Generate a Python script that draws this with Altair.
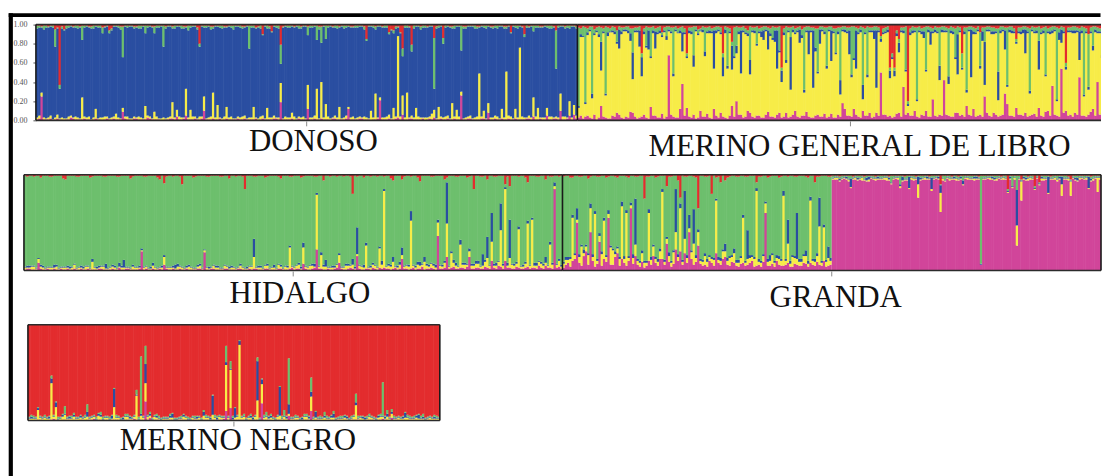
import altair as alt
import pandas as pd

# stacking order, bottom to top
CLUSTERS = ["magenta", "yellow", "blue", "green", "red"]
COLORS = ["#D1459A", "#F7EC48", "#2A4EA1", "#6DBF6D", "#E32C2E"]

# ---------------- DONOSO (blue dominant) ----------------
DONOSO_M = [1,2, 25,1, 1,1, 2,0, 1,2, 1,1, 0,1, 1,3, 2,1, 1,1,
            1,2, 1,1, 0,1, 2,1, 1,0, 1,2, 1,1, 2,1, 1,1, 9,2,
            1,1, 0,2, 2,1, 1,1, 1,3, 2,1, 1,1, 1,0, 0,1, 1,2,
            2,1, 4,1, 1,2, 5,1, 1,1, 2,1, 1,2, 10,1, 1,1, 2,1,
            1,2, 0,1, 2,1, 1,1, 1,2, 1,1, 2,1, 1,1, 1,2, 0,1,
            2,1, 1,1, 1,2, 2,1, 19,1, 1,1, 1,2, 0,1, 2,1, 1,1,
            12,1, 1,2, 1,1, 2,1, 1,1, 0,2, 2,1, 1,1, 1,2, 12,1,
            1,1, 1,2, 2,1, 1,1, 0,1, 1,2, 21,1, 1,1, 2,1, 1,2,
            3,1, 6,1, 1,2, 2,1, 1,1, 1,2, 0,1, 2,1, 3,1, 1,2,
            1,1, 2,1, 1,2, 1,1, 26,1, 1,2, 2,1, 1,1, 1,2, 2,1,
            8,1, 1,2, 1,1, 2,1, 1,2, 1,1, 2,1, 1,1, 1,2, 2,1,
            4,1, 1,2, 1,1, 5,1, 1,2, 2,1, 10,1, 1,2, 5,1, 6,2]
DONOSO_Y = [2,3, 4,2, 1,2, 3,1, 2,4, 1,2, 2,1, 3,2, 1,3, 2,1,
            23,2, 2,3, 1,2, 10,1, 2,3, 3,2, 1,2, 2,6, 2,1, 4,2,
            3,1, 2,2, 1,3, 2,1, 14,2, 2,1, 8,3, 1,2, 3,1, 2,2,
            17,2, 7,3, 2,1, 28,2, 10,3, 2,1, 3,2, 15,1, 2,3, 27,2,
            15,1, 2,3, 12,2, 3,1, 1,2, 2,3, 3,1, 2,2, 13,1, 2,3,
            3,1, 12,2, 2,3, 1,2, 20,1, 3,2, 2,6, 4,1, 2,2, 3,1,
            25,2, 2,3, 32,1, 38,2, 16,3, 2,1, 3,2, 13,1, 2,3, 2,2,
            3,1, 2,2, 1,3, 2,1, 10,2, 27,1, 3,2, 2,3, 4,1, 12,2,
            85,3, 20,2, 28,1, 3,2, 12,3, 2,1, 3,2, 2,6, 8,1, 13,2,
            2,3, 3,1, 17,2, 10,3, 4,1, 2,2, 3,1, 2,3, 48,2, 8,1,
            10,2, 2,3, 3,1, 10,2, 50,3, 3,1, 10,2, 75,3, 2,1, 3,2,
            20,3, 12,1, 2,2, 8,3, 3,1, 2,2, 18,3, 3,1, 15,2, 10,3]
DONOSO_G = [3,2, 1,4, 2,1, 1,2, 18,1, 4,2, 1,3, 2,1, 1,2, 3,1,
            15,2, 1,1, 2,3, 1,2, 2,6, 1,1, 3,2, 1,1, 2,3, 32,1,
            2,1, 1,2, 1,3, 3,1, 8,2, 1,1, 7,2, 2,1, 22,2, 1,1,
            2,3, 1,1, 3,2, 1,5, 2,1, 1,2, 3,1, 2,2, 1,3, 2,1,
            1,2, 3,1, 1,1, 2,4, 1,1, 2,2, 1,1, 24,2, 2,1, 1,3,
            1,1, 3,2, 1,1, 2,3, 20,1, 1,2, 2,1, 1,1, 3,2, 1,1,
            9,2, 2,1, 15,3, 17,1, 14,2, 1,1, 2,3, 1,1, 3,2, 1,1,
            1,2, 2,1, 1,3, 2,1, 1,2, 3,1, 1,1, 2,2, 2,1, 3,2,
            1,1, 8,2, 2,1, 7,3, 1,1, 3,2, 2,1, 1,1, 53,2, 2,1,
            6,2, 1,1, 2,3, 1,1, 26,2, 2,1, 1,1, 3,2, 1,1, 2,3,
            1,1, 2,2, 3,1, 1,2, 2,1, 1,1, 2,3, 1,1, 3,2, 1,1,
            6,2, 2,1, 1,1, 2,3, 3,1, 40,2, 1,1, 2,2, 3,1, 1,2]
DONOSO_R = [1,1, 2,1, 1,2, 1,1, 5,3, 63,2, 5,1, 1,1, 2,1, 1,2,
            1,1, 1,2, 2,1, 1,1, 1,3, 2,1, 6,4, 1,1, 1,2, 2,1,
            1,1, 1,2, 2,1, 1,1, 1,1, 1,2, 2,1, 1,1, 1,2, 1,1,
            2,1, 1,1, 1,2, 2,1, 1,1, 1,3, 20,1, 1,1, 1,2, 2,1,
            1,1, 1,2, 2,1, 1,1, 1,1, 1,2, 2,1, 1,1, 1,3, 2,1,
            10,1, 1,2, 7,1, 1,1, 21,2, 1,1, 1,1, 2,1, 1,2, 1,1,
            2,1, 1,1, 1,2, 2,1, 1,1, 1,2, 1,1, 2,1, 1,1, 1,2,
            2,1, 1,1, 1,2, 15,1, 1,1, 2,1, 1,2, 1,1, 8,5, 6,2,
            2,8, 25,1, 1,2, 21,1, 1,1, 2,1, 1,2, 1,1, 14,2, 1,1,
            14,1, 1,2, 2,1, 1,1, 1,2, 2,1, 1,1, 1,2, 2,1, 1,1,
            1,2, 2,1, 1,1, 1,2, 2,1, 8,1, 1,1, 1,2, 10,1, 2,1,
            1,1, 1,2, 2,1, 1,1, 1,2, 6,1, 1,1, 2,1, 1,1, 1,2]

# ------------- MERINO GENERAL DE LIBRO (yellow dominant) -------------
MGL_M = [3,5, 2,4, 5,3, 2,6, 1,3, 15,4, 3,2, 2,5, 4,8, 6,3,
         2,4, 3,9, 8,4, 2,3, 4,6, 3,2, 14,5, 5,3, 3,7, 2,4,
         68,6, 4,3, 3,12, 38,5, 13,4, 3,6, 2,3, 10,4, 4,7, 3,2,
         12,5, 3,8, 4,3, 2,5, 15,4, 20,6, 6,3, 4,10, 8,4, 3,5,
         5,3, 3,6, 9,4, 4,3, 6,8, 3,4, 8,3, 4,6, 10,4, 3,5,
         5,9, 4,3, 3,5, 6,4, 4,7, 3,4, 7,3, 3,6, 4,18, 12,5,
         5,4, 12,6, 4,3, 10,5, 5,8, 3,4, 8,5, 50,6, 6,4, 5,3,
         4,7, 8,4, 35,6, 8,5, 5,10, 4,3, 6,5, 10,4, 4,22, 5,4,
         6,5, 42,6, 5,4, 4,8, 8,5, 6,4, 15,6, 5,12, 4,5, 6,4,
         25,8, 5,4, 8,6, 4,5, 6,28, 17,5, 5,4, 13,6, 6,5, 8,4,
         5,6, 7,4, 13,5, 4,9, 10,5, 36,6, 5,4, 54,8, 10,5, 6,4,
         8,6, 45,5, 5,4, 6,9, 12,5, 40,6, 8,5, 5,4, 10,6, 6,5,
         5,4]
MGL_B = [2,3, 1,2, 3,2, 5,2, 2,3, 30,2, 2,4, 1,2, 3,2, 20,3,
         2,2, 3,8, 28,2, 2,17, 20,3, 2,20, 2,3, 18,2, 3,2, 2,4,
         2,2, 3,2, 1,3, 20,2, 2,3, 3,12, 2,2, 1,3, 5,2, 3,2,
         40,3, 2,2, 20,4, 3,2, 25,2, 8,3, 45,2, 2,3, 15,2, 3,2,
         2,6, 10,2, 20,3, 2,12, 40,2, 12,3, 3,2, 55,3, 2,2, 14,3,
         3,2, 25,2, 60,4, 2,15, 2,3, 3,2, 32,2, 2,3, 15,2, 3,2,
         25,3, 2,40, 2,3, 15,2, 3,2, 2,9, 60,2, 3,2, 2,3, 8,2,
         6,3, 10,2, 3,2, 2,3, 3,2, 2,2, 3,7, 2,3, 14,2, 3,2,
         15,3, 2,2, 8,3, 3,2, 42,2, 2,3, 3,2, 50,3, 2,2, 3,10,
         45,2, 2,3, 3,2, 30,3, 2,20, 2,3, 3,2, 2,2, 3,4, 25,2,
         3,2, 2,3, 30,2, 3,2, 2,3, 3,2, 2,8, 14,2, 3,2, 2,3,
         3,2, 30,3, 2,2, 3,2, 5,3, 2,2, 3,2, 2,3, 3,2, 2,3,
         3,2]
MGL_G = [82,6, 10,78, 4,3, 70,4, 3,8, 15,3, 70,5, 3,4, 4,12, 3,4,
         2,3, 4,5, 25,3, 3,4, 4,3, 20,3, 30,4, 3,5, 4,3, 3,10,
         3,4, 48,3, 4,3, 6,4, 3,3, 4,30, 3,4, 2,3, 25,4, 4,3,
         3,4, 3,5, 4,3, 40,3, 4,30, 20,4, 3,4, 4,3, 35,3, 3,18,
         3,4, 4,3, 3,5, 12,3, 3,25, 3,4, 35,3, 10,3, 4,3, 3,6,
         65,4, 4,3, 3,20, 45,3, 3,4, 40,3, 4,3, 25,4, 55,3, 3,4,
         3,50, 33,3, 4,3, 60,4, 50,3, 3,4, 4,3, 3,4, 4,3, 3,4,
         3,3, 4,3, 3,45, 3,4, 4,3, 75,4, 3,4, 45,3, 4,3, 3,4,
         40,3, 4,3, 50,4, 4,30, 8,3, 15,4, 65,3, 3,4, 4,3, 35,4,
         15,3, 3,4, 4,3, 45,4, 3,3, 60,3, 4,3, 3,4, 4,3, 3,4,
         65,3, 4,3, 15,4, 3,50, 3,4, 4,3, 75,4, 3,4, 4,3, 3,4,
         4,3, 3,4, 70,3, 55,4, 20,3, 4,3, 28,4, 3,4, 4,3, 3,4,
         4,3]
MGL_R = [3,4, 2,3, 4,2, 2,5, 3,2, 3,4, 2,3, 4,2, 3,6, 2,3,
         3,2, 2,4, 4,3, 3,2, 30,4, 2,3, 3,2, 4,3, 2,8, 3,2,
         2,3, 3,2, 4,3, 2,4, 30,3, 3,2, 2,5, 4,2, 3,3, 2,4,
         3,2, 2,3, 30,2, 3,4, 18,3, 2,3, 3,2, 4,6, 2,3, 3,2,
         4,3, 2,2, 3,4, 2,3, 3,2, 45,4, 2,3, 3,2, 4,3, 2,5,
         3,2, 2,3, 3,4, 4,2, 2,3, 3,2, 2,4, 4,3, 3,2, 2,3,
         3,2, 2,3, 4,2, 3,4, 2,3, 3,2, 2,3, 12,4, 3,2, 45,30,
         45,6, 15,3, 3,2, 80,4, 2,3, 3,2, 4,3, 2,2, 3,4, 2,3,
         3,2, 2,3, 4,2, 3,4, 2,3, 30,3, 3,2, 2,3, 4,2, 8,3,
         3,2, 2,3, 3,4, 4,2, 2,3, 3,2, 2,4, 15,3, 3,2, 2,3,
         4,2, 3,3, 2,4, 3,2, 4,3, 2,2, 3,4, 2,3, 40,3, 3,2,
         2,3, 4,2, 3,4, 10,3, 2,2, 3,4, 4,3, 2,2, 3,3, 2,4,
         3,2]

# ---------------- HIDALGO (green dominant) ----------------
HID_M = [1,2, 2,1, 1,1, 8,2, 1,1, 2,1, 1,2, 1,1, 2,1, 1,2,
         1,1, 2,1, 1,2, 1,1, 2,1, 1,1, 1,2, 2,1, 1,1, 1,2,
         1,1, 3,1, 1,2, 2,1, 1,1, 1,2, 20,1, 2,1, 1,2, 1,1,
         2,1, 6,2, 1,1, 2,1, 1,2, 1,1, 2,1, 1,1, 1,2, 2,1,
         19,1, 1,2, 2,1, 1,1, 1,2, 2,1, 1,1, 1,2, 2,1, 1,1,
         2,1, 2,2, 1,1, 1,2, 2,1, 1,1, 1,2, 2,1, 1,1, 2,3,
         1,2, 2,1, 7,2, 1,1, 2,3, 22,2, 2,1, 1,2, 1,1, 2,3,
         8,2, 1,1, 2,3, 2,1, 15,2, 1,1, 2,2, 1,3, 2,1, 3,2,
         3,2, 2,1, 2,3, 1,2, 12,2, 2,1, 2,3, 1,2, 2,4, 1,2,
         2,3, 2,1, 36,2, 2,3, 14,2, 3,4, 2,2, 3,3, 2,4, 14,2,
         2,3, 3,2, 2,4, 3,2, 10,3, 2,5, 4,2, 10,3, 3,2, 2,4,
         3,2, 2,3, 4,2, 3,3, 2,5, 3,2, 5,3, 3,2, 85,3, 4,2]
HID_Y = [2,1, 1,3, 3,1, 4,2, 2,1, 1,2, 2,1, 3,1, 1,2, 2,1,
         1,2, 4,1, 2,1, 1,3, 2,1, 8,2, 1,1, 2,3, 1,1, 2,2,
         2,1, 1,2, 2,1, 1,1, 3,2, 2,1, 1,2, 2,1, 1,3, 2,1,
         1,2, 8,1, 2,2, 1,1, 3,2, 2,1, 1,3, 2,1, 1,2, 3,1,
         2,2, 1,1, 3,2, 2,1, 1,3, 2,1, 2,2, 1,1, 3,2, 1,1,
         2,3, 12,1, 2,2, 1,3, 3,1, 2,2, 1,4, 2,1, 3,2, 22,1,
         2,3, 4,1, 17,2, 2,4, 3,1, 57,2, 14,3, 3,1, 2,2, 1,3,
         8,1, 2,4, 3,2, 4,1, 2,3, 3,2, 24,1, 2,3, 3,2, 20,4,
         80,2, 3,3, 7,1, 2,4, 4,2, 3,3, 50,2, 2,4, 3,2, 8,3,
         2,4, 3,2, 14,3, 2,5, 35,2, 15,4, 3,2, 24,3, 4,2, 6,3,
         3,4, 4,2, 3,5, 10,3, 20,2, 3,4, 38,3, 75,2, 10,4, 3,3,
         40,2, 2,4, 45,3, 50,2, 3,4, 4,3, 3,2, 24,4, 3,3, 6,2]
HID_B = [1,2, 2,1, 1,1, 1,2, 2,1, 1,1, 1,3, 2,1, 1,1, 1,2,
         2,1, 1,1, 1,2, 2,1, 1,1, 3,1, 2,2, 1,1, 5,1, 1,2,
         2,1, 4,2, 8,1, 1,1, 2,1, 1,2, 2,1, 1,1, 2,3, 1,1,
         1,2, 2,1, 1,1, 2,4, 3,1, 1,1, 2,2, 1,1, 1,2, 2,1,
         1,1, 2,1, 1,2, 2,1, 1,1, 1,2, 2,1, 1,1, 2,1, 1,2,
         1,1, 19,1, 2,2, 1,1, 2,1, 1,3, 1,1, 2,1, 1,2, 2,1,
         1,1, 2,2, 5,1, 1,1, 2,3, 2,1, 3,2, 7,1, 1,2, 2,1,
         2,1, 1,2, 2,1, 6,2, 28,1, 1,3, 3,1, 2,2, 1,1, 2,4,
         2,1, 2,2, 5,1, 2,3, 8,1, 1,2, 10,1, 2,3, 4,1, 5,2,
         2,1, 2,3, 3,1, 2,2, 43,1, 2,3, 3,1, 5,2, 2,1, 3,2,
         2,3, 3,1, 12,2, 22,1, 30,2, 3,1, 28,2, 2,3, 40,1, 2,2,
         3,1, 2,2, 3,1, 2,3, 3,1, 2,2, 6,1, 3,2, 4,1, 2,2]
HID_R = [1,2, 1,1, 2,1, 1,3, 1,1, 1,2, 2,1, 1,1, 1,4, 5,1,
         1,1, 1,2, 2,1, 1,1, 1,3, 2,1, 1,1, 1,2, 2,1, 1,1,
         1,2, 2,1, 1,1, 1,4, 2,1, 1,1, 1,2, 2,1, 1,1, 1,3,
         5,1, 9,2, 1,1, 2,1, 1,2, 10,1, 1,1, 1,3, 2,1, 1,1,
         1,2, 2,1, 1,1, 1,2, 2,1, 1,4, 1,1, 2,1, 1,2, 15,1,
         1,1, 2,2, 1,1, 1,3, 2,1, 1,1, 1,2, 4,1, 1,1, 2,2,
         1,1, 1,3, 2,1, 1,1, 1,2, 2,1, 1,6, 1,1, 2,1, 1,2,
         1,1, 2,1, 1,2, 20,1, 2,1, 1,3, 1,1, 2,1, 1,2, 1,1,
         2,1, 1,4, 6,1, 1,1, 5,2, 1,1, 2,1, 1,3, 7,1, 1,1,
         1,2, 2,1, 1,1, 1,5, 3,1, 1,1, 2,2, 1,1, 1,3, 2,1,
         15,1, 1,2, 2,1, 5,1, 1,2, 2,1, 1,1, 10,2, 12,1, 1,1,
         2,1, 1,3, 8,1, 1,1, 2,2, 1,1, 5,1, 2,2, 1,1, 2,1]

# ---------------- GRANDA: green-dominant part ----------------
GRA_A_M = [3,6, 8,4, 10,12, 50,8, 5,15, 20,6, 40,10, 4,7, 30,5, 12,9,
           55,6, 6,14, 18,5, 12,8, 5,10, 65,7, 15,6, 4,9, 3,5, 10,6,
           15,8, 5,12, 12,6, 28,9, 4,7, 22,10, 20,6, 18,8, 40,12, 6,9,
           26,7, 5,6, 4,10, 8,5, 18,8, 6,12, 14,6, 5,9, 8,5, 4,7,
           8,5, 6,8, 10,4, 5,6, 4,9, 60,5, 5,7, 4,10, 6,5, 5,6,
           8,4, 4,7, 6,5, 5,8, 7,4, 8,6, 5,9, 6,5, 10,4, 5,6]
GRA_A_Y = [4,5, 3,8, 45,4, 3,6, 20,3, 5,10, 25,4, 55,3, 6,12, 40,5,
           4,18, 15,3, 5,7, 55,4, 55,3, 3,6, 12,4, 4,9, 5,3, 50,5,
           10,4, 4,8, 70,3, 5,6, 4,12, 18,4, 45,3, 15,5, 4,7, 22,4,
           14,3, 4,9, 5,4, 4,6, 55,3, 4,8, 6,4, 8,5, 10,3, 4,6,
           47,3, 6,5, 4,8, 78,3, 4,6, 10,4, 5,9, 4,3, 6,5, 73,4,
           20,3, 10,6, 6,4, 4,7, 8,3, 65,4, 4,6, 40,3, 35,5, 8,4]
GRA_A_B = [2,3, 3,2, 3,2, 12,3, 2,4, 2,2, 5,3, 3,2, 3,3, 3,2,
           4,2, 2,3, 2,2, 5,3, 3,2, 3,4, 48,2, 2,3, 2,2, 4,3,
           2,2, 3,3, 3,2, 2,4, 2,2, 45,3, 5,2, 50,3, 14,2, 36,3,
           3,2, 2,3, 3,2, 2,2, 2,3, 3,2, 8,3, 2,2, 5,3, 3,2,
           3,2, 30,3, 2,2, 3,3, 2,2, 2,3, 6,2, 2,3, 3,2, 5,2,
           25,3, 2,2, 48,3, 3,2, 6,3, 4,2, 3,3, 30,2, 3,2, 12,3]
GRA_A_R = [2,1, 1,3, 3,1, 1,2, 2,1, 1,4, 2,1, 1,2, 2,1, 1,3,
           2,1, 1,2, 3,1, 1,1, 2,3, 1,1, 2,2, 1,1, 25,2, 2,1,
           1,3, 2,1, 1,1, 12,2, 2,1, 1,6, 24,1, 2,2, 1,1, 2,3,
           35,1, 1,2, 2,1, 20,1, 3,2, 8,1, 6,3, 2,1, 1,2, 2,1,
           1,2, 2,1, 1,1, 8,2, 2,1, 1,3, 2,1, 1,1, 3,2, 1,1,
           2,1, 1,2, 2,1, 1,1, 2,3, 1,1, 8,2, 2,1, 1,1, 2,2]
# ---------------- GRANDA: magenta-dominant part ----------------
GRA_B_Y = [1,2, 2,1, 1,1, 1,2, 1,1, 2,1, 1,3, 1,1, 2,1, 1,2,
           1,1, 1,2, 3,1, 1,1, 1,2, 2,1, 1,1, 1,2, 2,1, 14,1,
           1,2, 1,1, 2,1, 1,1, 20,2, 1,1, 2,1, 1,2, 1,1, 1,1,
           2,1, 1,2, 1,1, 0,1, 1,1, 2,1, 1,2, 1,1, 2,1, 1,1,
           1,2, 21,1, 20,1, 1,2, 2,1, 1,1, 1,2, 2,1, 1,1, 1,2,
           2,1, 12,1, 1,2, 15,1, 1,1, 2,1, 1,2, 1,1, 2,1, 15,2]
GRA_B_B = [1,1, 1,2, 1,1, 2,1, 9,1, 1,2, 1,1, 1,3, 3,1, 1,1,
           2,1, 1,1, 1,2, 1,1, 1,1, 2,4, 1,1, 12,1, 1,1, 8,2,
           1,1, 2,1, 12,1, 1,2, 8,1, 1,1, 1,1, 2,1, 1,2, 4,1,
           1,1, 1,2, 2,1, 1,1, 1,1, 1,2, 2,1, 1,1, 1,1, 1,2,
           1,1, 37,1, 1,2, 2,1, 1,1, 1,1, 1,2, 1,1, 17,1, 1,1,
           1,2, 8,1, 1,1, 1,1, 2,3, 1,1, 1,1, 12,2, 1,1, 1,1]
GRA_B_G = [2,1, 1,2, 2,1, 1,3, 3,1, 1,2, 2,1, 2,2, 1,1, 2,1,
           1,2, 2,1, 1,1, 7,2, 1,1, 9,1, 2,3, 1,1, 2,1, 1,2,
           2,1, 1,1, 2,2, 1,1, 1,2, 4,1, 2,1, 1,2, 2,1, 5,1,
           1,2, 2,1, 1,1, 92,2, 2,1, 1,1, 2,2, 1,1, 1,2, 2,1,
           11,1, 15,2, 1,1, 2,1, 1,2, 2,1, 1,1, 2,2, 1,1, 2,1,
           3,1, 1,2, 2,1, 1,1, 2,2, 1,1, 2,1, 1,2, 2,1, 1,1]
GRA_B_R = [1,1, 1,2, 1,1, 1,1, 1,2, 1,1, 1,1, 2,1, 1,1, 1,2,
           1,1, 1,1, 1,2, 1,1, 1,1, 1,1, 2,1, 1,1, 1,2, 1,1,
           1,1, 1,2, 1,1, 1,1, 10,1, 1,1, 1,2, 1,1, 2,1, 1,1,
           1,1, 1,1, 1,2, 1,1, 1,1, 1,1, 1,1, 1,2, 1,1, 15,1,
           1,1, 1,1, 5,1, 1,2, 1,1, 12,1, 8,1, 1,1, 1,2, 1,1,
           1,1, 1,1, 1,2, 5,1, 1,1, 1,1, 1,1, 1,2, 1,1, 1,1]

# ---------------- MERINO NEGRO (red dominant) ----------------
NEG_M = [1,0, 0,1, 1,1, 1,0, 0,1, 1,2, 1,0, 0,1, 1,1, 1,0,
         1,1, 0,1, 1,0, 1,1, 1,2, 0,1, 1,0, 1,1, 0,1, 1,1,
         1,0, 0,1, 1,1, 1,2, 1,0, 1,1, 20,1, 3,0, 1,1, 1,0,
         0,1, 1,1, 1,0, 0,1, 1,1, 1,0, 0,1, 1,1, 1,0, 1,1,
         1,0, 1,1, 0,1, 1,2, 10,1, 13,0, 1,1, 1,1, 1,0, 1,1,
         0,1, 1,0, 18,1, 1,1, 1,0, 0,1, 1,1, 1,0, 5,1, 1,1,
         1,0, 0,1, 1,1, 10,0, 1,1, 1,0, 0,1, 1,1, 1,0, 1,1,
         0,1, 1,0, 1,1, 1,1, 1,0, 0,1, 1,1, 1,0, 1,1, 2,1,
         1,0, 3,1, 1,1, 0,1, 1,0, 1,1, 1,1, 0,1, 1,0, 1,1,
         0,1, 1,0]
NEG_Y = [1,2, 2,1, 10,2, 1,3, 2,1, 38,2, 13,1, 2,3, 5,1, 1,2,
         3,1, 2,2, 1,3, 3,1, 2,2, 1,4, 3,1, 2,2, 1,1, 13,2,
         2,1, 1,3, 3,1, 1,2, 25,1, 4,2, 19,3, 2,1, 3,2, 1,1,
         2,1, 1,2, 2,1, 1,1, 1,3, 2,1, 1,2, 1,1, 2,1, 4,2,
         2,1, 5,2, 1,3, 2,1, 48,2, 40,1, 2,3, 78,2, 3,1, 2,2,
         1,3, 20,1, 20,2, 3,1, 2,2, 1,3, 4,1, 3,2, 2,1, 1,2,
         2,1, 1,3, 3,1, 15,2, 2,1, 1,2, 3,1, 1,2, 2,1, 1,1,
         2,2, 1,1, 1,3, 15,1, 2,2, 1,1, 3,2, 1,1, 2,3, 2,1,
         3,2, 4,1, 1,2, 2,1, 2,3, 1,1, 1,2, 2,1, 1,1, 1,2,
         2,1, 1,2]
NEG_B = [1,2, 1,1, 2,1, 1,1, 1,2, 5,1, 5,1, 1,2, 1,1, 2,1,
         2,1, 1,2, 1,1, 5,1, 1,1, 1,2, 2,1, 1,1, 1,3, 19,1,
         1,1, 2,1, 1,2, 1,1, 1,1, 2,1, 20,1, 2,1, 1,2, 1,1,
         1,1, 1,2, 4,1, 1,1, 1,2, 1,1, 1,1, 1,2, 1,1, 4,1,
         1,2, 20,1, 2,1, 1,1, 3,1, 1,2, 10,1, 4,1, 1,1, 1,2,
         2,1, 41,1, 5,1, 1,2, 2,1, 1,1, 30,1, 1,2, 10,1, 1,1,
         1,1, 2,1, 1,2, 5,1, 6,1, 1,1, 2,1, 1,2, 4,1, 1,1,
         1,2, 2,1, 1,1, 3,1, 1,2, 2,1, 1,1, 1,1, 2,1, 1,2,
         3,1, 2,1, 1,1, 1,2, 5,1, 1,1, 1,2, 4,1, 2,1, 1,1,
         1,2, 1,1]
NEG_G = [1,2, 2,1, 1,1, 1,2, 1,1, 3,1, 1,2, 1,1, 8,1, 1,2,
         2,1, 1,1, 1,2, 8,1, 1,1, 2,1, 3,2, 1,1, 2,1, 1,2,
         1,1, 1,2, 2,1, 1,1, 5,2, 60,1, 19,1, 2,1, 1,2, 2,1,
         1,1, 1,2, 1,1, 1,1, 2,1, 1,2, 1,1, 2,1, 1,1, 2,2,
         1,1, 1,2, 2,1, 1,1, 17,1, 8,2, 1,1, 1,1, 2,1, 1,2,
         1,1, 4,1, 1,2, 4,1, 2,1, 1,1, 1,2, 6,1, 48,1, 1,2,
         1,1, 1,2, 2,1, 15,1, 1,1, 2,1, 4,2, 1,1, 3,1, 1,2,
         2,1, 1,1, 2,1, 9,2, 1,1, 1,2, 2,1, 1,1, 1,2, 35,1,
         4,1, 3,2, 1,1, 1,1, 1,2, 2,1, 2,1, 1,2, 3,1, 1,1,
         1,2, 2,1]

POPULATIONS = ["DONOSO", "MERINO GENERAL DE LIBRO", "HIDALGO", "GRANDA", "MERINO NEGRO"]
Y_TICKS = [0, 20, 40, 60, 80, 100]

H = 96
OVERLAP = 0.25          # each bar slightly overlaps the next one (hides anti-alias seams)
cscale = alt.Scale(domain=CLUSTERS, range=COLORS)
SERIF = "Liberation Serif"


def build(minor, dominant, offset=0.0, step=1.0):
    n = len(next(iter(minor.values())))
    for k, v in minor.items():
        if len(v) != n:
            raise ValueError(f"{dominant}/{k}: {len(v)} values, expected {n}")
    rows = []
    for i in range(n):
        vals = {k: minor[k][i] for k in minor}
        vals[dominant] = max(0, 100 - sum(vals.values()))
        x0 = offset + i * step
        x1 = x0 + step * (1 + (OVERLAP if i < n - 1 else 0))
        cum = 0
        for c in CLUSTERS:
            v = vals.get(c, 0)
            if v > 0:
                rows.append({"x0": x0, "x1": x1, "y0": cum, "y1": cum + v, "cluster": c})
            cum += v
    return rows, n * step


def row_chart(pops, width, px_per_ind, lead_px, labels, close_right=True, yaxis=False, extra=()):
    bar_rows, pop_rows = [], []
    pos = 0.0
    for name, parts in pops:
        start = pos
        for minor, dom, step in parts:
            r, span = build(minor, dom, offset=pos, step=step)
            bar_rows += r
            pos += span
        pop_rows.append({"name": name, "start": start, "end": pos, "center": (start + pos) / 2})
    dom0 = -lead_px / px_per_ind
    xs = alt.Scale(domain=[dom0, dom0 + width / px_per_ind], nice=False, zero=False, clamp=True)
    bars_df = pd.DataFrame(bar_rows)
    pop_df = pd.DataFrame(pop_rows)
    edges = [{"x": p["start"]} for p in pop_rows]
    if close_right:
        edges.append({"x": pop_rows[-1]["end"]})
    edge_df = pd.DataFrame(edges)

    if yaxis:
        yax = alt.Axis(values=Y_TICKS, labelExpr="format(datum.value / 100, '.2f')",
                       labelFont=SERIF, labelFontSize=8, labelColor="#555",
                       tickSize=3, tickColor="#555", domain=False, grid=False,
                       title=None, labelPadding=6, offset=-lead_px)
    else:
        yax = None

    bars = alt.Chart(bars_df).mark_rect().encode(
        x=alt.X("x0:Q", scale=xs, axis=None),
        x2="x1:Q",
        y=alt.Y("y0:Q", scale=alt.Scale(domain=[0, 100], nice=False), axis=yax),
        y2="y1:Q",
        color=alt.Color("cluster:N", scale=cscale, legend=None),
    )
    pbase = alt.Chart(pop_df)
    top = pbase.mark_rule(color="#2b2b2b", strokeWidth=1.6).encode(
        x=alt.X("start:Q", scale=xs), x2="end:Q", y=alt.value(0))
    bottom = pbase.mark_rule(color="#2b2b2b", strokeWidth=1.6).encode(
        x=alt.X("start:Q", scale=xs), x2="end:Q", y=alt.value(H))
    sides = alt.Chart(edge_df).mark_rule(color="#1a1a1a", strokeWidth=1.6).encode(
        x=alt.X("x:Q", scale=xs), y=alt.value(0), y2=alt.value(H))
    ticks = pbase.mark_rule(color="#8a8a8a", strokeWidth=1).encode(
        x=alt.X("center:Q", scale=xs), y=alt.value(H + 1), y2=alt.value(H + 6))
    layers = [bars, top, bottom, sides, ticks]
    for name, dx, base in labels:
        layers.append(
            alt.Chart(pop_df).transform_filter(alt.datum.name == name)
            .mark_text(font=SERIF, fontSize=31, baseline="alphabetic", align="center",
                       color="#111", dx=dx)
            .encode(x=alt.X("center:Q", scale=xs), y=alt.value(H + base), text="name:N")
        )
    layers += list(extra)
    return alt.layer(*layers).properties(width=width, height=H)


one = pd.DataFrame({"k": [0]})
frame = alt.Chart(one).mark_rect(color="black")
vbar = frame.encode(x=alt.value(-15.3), x2=alt.value(-11.1), y=alt.value(-11.5), y2=alt.value(453))
hbar = frame.encode(x=alt.value(-15.3), x2=alt.value(1079.5), y=alt.value(-11.5), y2=alt.value(-7.5))

row1 = row_chart(
    [(POPULATIONS[0], [({"magenta": DONOSO_M, "yellow": DONOSO_Y, "green": DONOSO_G, "red": DONOSO_R}, "blue", 0.5)]),
     (POPULATIONS[1], [({"magenta": MGL_M, "blue": MGL_B, "green": MGL_G, "red": MGL_R}, "yellow", 0.5)])],
    width=1080, px_per_ind=4.525, lead_px=12,
    labels=[(POPULATIONS[0], 6.7, 30.5), (POPULATIONS[1], 9, 35.5)],
    close_right=False, yaxis=True, extra=(vbar, hbar))

row2 = row_chart(
    [(POPULATIONS[2], [({"magenta": HID_M, "yellow": HID_Y, "blue": HID_B, "red": HID_R}, "green", 0.5)]),
     (POPULATIONS[3], [({"magenta": GRA_A_M, "yellow": GRA_A_Y, "blue": GRA_A_B, "red": GRA_A_R}, "green", 0.5),
                       ({"yellow": GRA_B_Y, "blue": GRA_B_B, "green": GRA_B_G, "red": GRA_B_R}, "magenta", 0.5)])],
    width=1080, px_per_ind=4.5, lead_px=0,
    labels=[(POPULATIONS[2], 6.7, 33), (POPULATIONS[3], 4, 37)])

row3 = row_chart(
    [(POPULATIONS[4], [({"magenta": NEG_M, "yellow": NEG_Y, "blue": NEG_B, "green": NEG_G}, "red", 0.5)])],
    width=417, px_per_ind=4.49, lead_px=4,
    labels=[(POPULATIONS[4], 4, 30)])

chart = alt.vconcat(row1, row2, row3, spacing=54.5, bounds="flush").properties(
    padding={"left": 0, "top": 4, "right": 0, "bottom": 0}
).configure_view(stroke="transparent")

chart.save("out.html", embed_options={"renderer": "svg", "actions": False})
